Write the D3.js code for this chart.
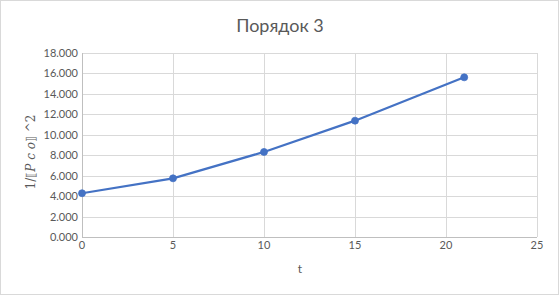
<!DOCTYPE html>
<html>
<head>
<meta charset="utf-8">
<script src="https://cdn.jsdelivr.net/npm/d3@7"></script>
<style>
  body { margin: 0; background: #fff; }
  text { font-family: Lato, "Liberation Sans", sans-serif; fill: #595959; }
</style>
</head>
<body>
<svg id="chart"></svg>
<script>
// data
const tValues = [0, 5, 10, 15, 21];
const invSquare = [4.28, 5.74, 8.32, 11.38, 15.62];
const xTicks = [0, 5, 10, 15, 20, 25];
const yTicks = [0, 2, 4, 6, 8, 10, 12, 14, 16, 18];

const W = 559, H = 295;
const margin = {left: 82, right: 22, top: 53, bottom: 58};

const svg = d3.select("#chart").attr("width", W).attr("height", H);

//chart border
svg.append("rect")
    .attr("x", 0.5).attr("y", 0.5)
    .attr("width", W - 1).attr("height", H - 1)
    .attr("fill", "#fff").attr("stroke", "#d9d9d9");

//scales
let xScale = d3.scaleLinear().domain([0, 25]).range([margin.left, W - margin.right]);
let yScale = d3.scaleLinear().domain([0, 18]).range([H - margin.bottom, margin.top]);

//gridlines
svg.append("g").selectAll("line").data(yTicks).join("line")
    .attr("x1", xScale(0)).attr("x2", xScale(25))
    .attr("y1", d => Math.round(yScale(d)) + 0.5).attr("y2", d => Math.round(yScale(d)) + 0.5)
    .attr("stroke", d => d === 0 ? "#bfbfbf" : "#d9d9d9");
svg.append("g").selectAll("line").data(xTicks).join("line")
    .attr("x1", d => Math.round(xScale(d)) + 0.5).attr("x2", d => Math.round(xScale(d)) + 0.5)
    .attr("y1", yScale(0)).attr("y2", yScale(18))
    .attr("stroke", d => d === 0 ? "#bfbfbf" : "#d9d9d9");

//axes labels
let fmt = d3.format(".3f");
svg.append("g").selectAll("text").data(yTicks).join("text")
    .attr("x", xScale(0) - 4)
    .attr("y", d => yScale(d) + 4)
    .attr("text-anchor", "end")
    .attr("font-size", 11)
    .text(d => fmt(d));
svg.append("g").selectAll("text").data(xTicks).join("text")
    .attr("x", d => xScale(d))
    .attr("y", yScale(0) + 12)
    .attr("text-anchor", "middle")
    .attr("font-size", 11)
    .text(d => d);

//title
svg.append("text")
    .attr("x", 280).attr("y", 32)
    .attr("text-anchor", "middle")
    .attr("font-size", 18)
    .text("Порядок 3");

//axis titles
svg.append("text")
    .attr("x", 300).attr("y", 273)
    .attr("text-anchor", "middle")
    .attr("font-size", 12)
    .text("t");
let yTitle = svg.append("text")
    .attr("transform", "translate(35,152) rotate(-90)")
    .attr("text-anchor", "middle")
    .attr("font-size", 12)
    .style("font-family", "'DejaVu Serif', 'Liberation Serif', serif");
yTitle.append("tspan").text("1/⟦");
yTitle.append("tspan").attr("font-style", "italic").text("P c o");
yTitle.append("tspan").text("⟧ ^2");

//series
let points = tValues.map((t, i) => [t, invSquare[i]]);
let line = d3.line()
    .x(d => xScale(d[0]))
    .y(d => yScale(d[1]));
svg.append("path")
    .datum(points)
    .attr("fill", "none")
    .attr("stroke", "#4472C4")
    .attr("stroke-width", 2.25)
    .attr("d", line);
svg.append("g").selectAll("circle").data(points).join("circle")
    .attr("cx", d => xScale(d[0]))
    .attr("cy", d => yScale(d[1]))
    .attr("r", 3.5)
    .attr("fill", "#4472C4")
    .attr("stroke", "#4472C4")
    .attr("stroke-width", 0.75);
</script>
</body>
</html>
